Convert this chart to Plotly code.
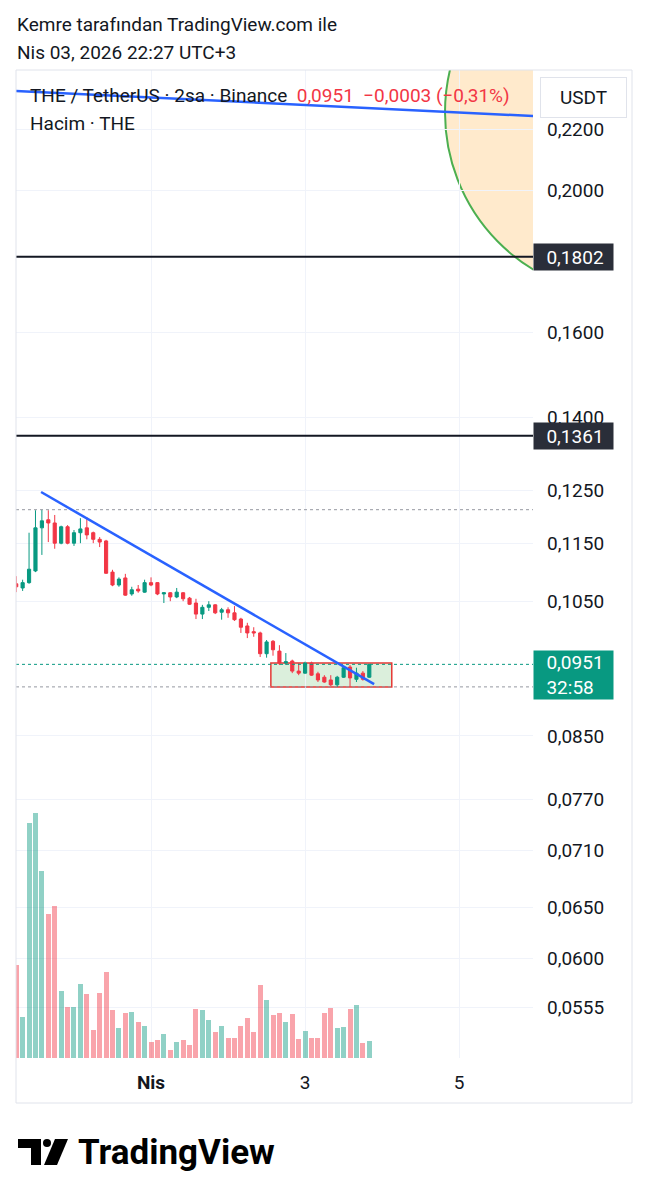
import math
import pandas as pd
import plotly.graph_objects as go

# ---------------- data ----------------
candle_times = pd.date_range("2026-03-30 06:00", periods=56, freq="2h")

opens = [0.1079, 0.1072, 0.1081, 0.1101, 0.1178, 0.1193, 0.1187, 0.1150, 0.1180, 0.1150,
         0.1169, 0.1178, 0.1169, 0.1157, 0.1154, 0.1099, 0.1077, 0.1089, 0.1062, 0.1070,
         0.1065, 0.1081, 0.1081, 0.1062, 0.1064, 0.1057, 0.1064, 0.1055, 0.1047, 0.1029,
         0.1040, 0.1044, 0.1032, 0.1036, 0.1031, 0.1021, 0.1010, 0.1001, 0.0999, 0.0967,
         0.0986, 0.0971, 0.0953, 0.0956, 0.0941, 0.0938, 0.0953, 0.0937, 0.0932, 0.0928,
         0.0921, 0.0932, 0.0947, 0.0929, 0.0938, 0.0932]
highs = [0.1092, 0.1086, 0.1169, 0.1211, 0.1212, 0.1211, 0.1202, 0.1182, 0.1183, 0.1174,
         0.1196, 0.1198, 0.1171, 0.1161, 0.1156, 0.1103, 0.1090, 0.1096, 0.1074, 0.1077,
         0.1086, 0.1090, 0.1082, 0.1065, 0.1065, 0.1072, 0.1065, 0.1057, 0.1054, 0.1044,
         0.1050, 0.1045, 0.1039, 0.1040, 0.1042, 0.1023, 0.1015, 0.1008, 0.1001, 0.0988,
         0.0988, 0.0980, 0.0968, 0.0958, 0.0953, 0.0955, 0.0955, 0.0940, 0.0935, 0.0935,
         0.0934, 0.0949, 0.0950, 0.0946, 0.0941, 0.0951]
lows = [0.1065, 0.1067, 0.1079, 0.1099, 0.1129, 0.1152, 0.1140, 0.1148, 0.1148, 0.1145,
        0.1150, 0.1157, 0.1150, 0.1143, 0.1096, 0.1075, 0.1074, 0.1059, 0.1059, 0.1064,
        0.1064, 0.1075, 0.1060, 0.1047, 0.1050, 0.1055, 0.1050, 0.1044, 0.1021, 0.1021,
        0.1034, 0.1029, 0.1020, 0.1023, 0.1018, 0.0999, 0.0991, 0.0993, 0.0962, 0.0961,
        0.0964, 0.0950, 0.0950, 0.0938, 0.0935, 0.0937, 0.0934, 0.0925, 0.0924, 0.0919,
        0.0918, 0.0931, 0.0918, 0.0925, 0.0927, 0.0931]
closes = [0.1074, 0.1081, 0.1104, 0.1178, 0.1191, 0.1187, 0.1150, 0.1180, 0.1150, 0.1169,
          0.1176, 0.1165, 0.1157, 0.1152, 0.1097, 0.1077, 0.1087, 0.1060, 0.1069, 0.1067,
          0.1081, 0.1077, 0.1062, 0.1064, 0.1057, 0.1065, 0.1054, 0.1045, 0.1029, 0.1040,
          0.1044, 0.1031, 0.1036, 0.1031, 0.1020, 0.1008, 0.0999, 0.0999, 0.0967, 0.0985,
          0.0973, 0.0953, 0.0955, 0.0941, 0.0938, 0.0953, 0.0935, 0.0928, 0.0925, 0.0921,
          0.0932, 0.0946, 0.0931, 0.0938, 0.0929, 0.0951]
# volume in thousands of THE
volumes = [930, 410, 2350, 2450, 1870, 1440, 1520, 670, 510, 510,
           740, 640, 280, 650, 860, 480, 300, 450, 460, 360,
           320, 160, 180, 240, 80, 160, 180, 130, 490, 480,
           380, 260, 320, 200, 200, 320, 400, 260, 730, 580,
           430, 450, 360, 440, 190, 270, 200, 200, 450, 500,
           300, 310, 490, 530, 150, 170]

price_ticks = [0.2200, 0.2000, 0.1600, 0.1400, 0.1250, 0.1150, 0.1050,
               0.0850, 0.0770, 0.0710, 0.0650, 0.0600, 0.0555]
date_ticks = ["2026-04-01", "2026-04-03", "2026-04-05"]
date_tick_labels = ["<b>Nis</b>", "3", "5"]

# drawings
level_lines = [0.1802, 0.1361]
last_price = 0.0951
countdown = "32:58"
trend_short_x = ["2026-03-30 13:45", "2026-04-03 21:30"]
trend_short_y = [0.1246, 0.0922]
trend_long_x = ["2026-03-30 01:00", "2026-04-06 04:00"]
trend_long_y = [0.2340, 0.2244]
circle_x = ["2026-04-04 19:35", "2026-04-09 11:45"]
circle_y = [0.1697, 0.3008]
zone_x = ["2026-04-02 13:20", "2026-04-04 03:00"]
zone_y = [0.0918, 0.0953]

x_range = ["2026-03-30 05:56", "2026-04-05 23:00"]
price_range = [0.0513, 0.2415]
vol_range = [0, 9880]

# ---------------- layout helpers (screen pixel -> paper) ----------------
OFF = 8                      # page body margin of the html page
L, R, T, B = 16, 632, 70, 1103
FIG_W, FIG_H = 648 - OFF, 1200 - OFF
def px(x):
    return (x - L) / (R - L)
def py(y):
    return (B - y) / (B - T)

GREEN = "#089981"
RED = "#f23645"
TXT = "#131722"
FONT = "Roboto"
PAD = "\u00a0\u00a0"

vol_colors = ["rgba(8,153,129,0.45)" if c >= o else "rgba(242,54,69,0.45)"
              for o, c in zip(opens, closes)]

fig = go.Figure()

fig.add_trace(go.Bar(x=candle_times, y=volumes, yaxis="y2",
                     marker=dict(color=vol_colors, line=dict(width=0)),
                     width=2 * 3600 * 1000 * 0.78, hoverinfo="skip"))

fig.add_trace(go.Candlestick(x=candle_times, open=opens, high=highs, low=lows, close=closes,
                             increasing=dict(line=dict(color=GREEN, width=1), fillcolor=GREEN),
                             decreasing=dict(line=dict(color=RED, width=1), fillcolor=RED),
                             whiskerwidth=0, hoverinfo="skip"))

full_x = [x_range[0], x_range[1]]
for lvl in [max(highs), min(lows)]:
    fig.add_trace(go.Scatter(x=full_x, y=[lvl, lvl], mode="lines",
                             line=dict(color="#9598a1", width=1, dash="dot"), hoverinfo="skip"))
fig.add_trace(go.Scatter(x=full_x, y=[last_price, last_price], mode="lines",
                         line=dict(color=GREEN, width=1, dash="dot"), hoverinfo="skip"))
for lvl in level_lines:
    fig.add_trace(go.Scatter(x=full_x, y=[lvl, lvl], mode="lines",
                             line=dict(color=TXT, width=2), hoverinfo="skip"))
fig.add_trace(go.Scatter(x=trend_short_x, y=trend_short_y, mode="lines",
                         line=dict(color="#2962ff", width=2.5), hoverinfo="skip"))
fig.add_trace(go.Scatter(x=trend_long_x, y=trend_long_y, mode="lines",
                         line=dict(color="#2962ff", width=2.5), hoverinfo="skip"))

shapes = [
    dict(type="circle", xref="x", yref="y", x0=circle_x[0], x1=circle_x[1],
         y0=circle_y[0], y1=circle_y[1], line=dict(color="#4caf50", width=2),
         fillcolor="rgba(255,152,0,0.2)", layer="below"),
    dict(type="rect", xref="x", yref="y", x0=zone_x[0], x1=zone_x[1],
         y0=zone_y[0], y1=zone_y[1], line=dict(color="#e53935", width=1.5),
         fillcolor="rgba(76,175,80,0.2)", layer="below"),
    dict(type="rect", xref="paper", yref="paper", x0=0, x1=1, y0=0, y1=1,
         line=dict(color="#e0e3eb", width=1)),
    # TradingView logo glyph
    dict(type="path", xref="paper", yref="paper",
         path=f"M {px(18)},{py(1139)} L {px(41)},{py(1139)} L {px(41)},{py(1165)} "
              f"L {px(31)},{py(1165)} L {px(31)},{py(1148)} L {px(18)},{py(1148)} Z",
         fillcolor="#000000", line=dict(width=0)),
    dict(type="circle", xref="paper", yref="paper", x0=px(43), x1=px(51),
         y0=py(1139), y1=py(1147), fillcolor="#000000", line=dict(width=0)),
    dict(type="path", xref="paper", yref="paper",
         path=f"M {px(55)},{py(1139)} L {px(68)},{py(1139)} L {px(57)},{py(1165)} "
              f"L {px(44)},{py(1165)} Z",
         fillcolor="#000000", line=dict(width=0)),
]

def fmt(v):
    return f"{v:.4f}".replace(".", ",")

ann = []
ann.append(dict(xref="paper", yref="paper", x=px(15), y=py(24), xanchor="left", yanchor="middle",
                text="Kemre tarafından TradingView.com ile", showarrow=False,
                font=dict(family=FONT, size=19, color=TXT)))
ann.append(dict(xref="paper", yref="paper", x=px(15), y=py(52), xanchor="left", yanchor="middle",
                text="Nis 03, 2026 22:27 UTC+3", showarrow=False,
                font=dict(family=FONT, size=19, color=TXT)))
ann.append(dict(xref="paper", yref="paper", x=px(28), y=py(96), xanchor="left", yanchor="middle",
                text="THE / TetherUS · 2sa · Binance\u00a0\u00a0<span style='color:#f23645'>"
                     "0,0951\u00a0\u00a0−0,0003 (−0,31%)</span>",
                showarrow=False, font=dict(family=FONT, size=19, color=TXT)))
ann.append(dict(xref="paper", yref="paper", x=px(28), y=py(123), xanchor="left", yanchor="middle",
                text="Hacim · THE", showarrow=False, font=dict(family=FONT, size=19, color=TXT)))
ann.append(dict(xref="paper", yref="paper", x=px(583), y=py(97), xanchor="center", yanchor="middle",
                text="USDT", showarrow=False, font=dict(family=FONT, size=19, color=TXT),
                bgcolor="#ffffff", bordercolor="#e0e3eb", borderwidth=1, borderpad=4,
                width=77, height=31))
x_end = px(533)
for lvl in level_lines:
    ann.append(dict(xref="paper", yref="y", x=x_end, y=math.log10(lvl), xanchor="left",
                    yanchor="middle", text=PAD + fmt(lvl), showarrow=False, align="left",
                    font=dict(family=FONT, size=19, color="#ffffff"),
                    bgcolor="#2a2e39", borderpad=3, width=73, height=20))
ann.append(dict(xref="paper", yref="y", x=x_end, y=math.log10(last_price), xanchor="left",
                yanchor="top", yshift=14, text=PAD + fmt(last_price) + "<br>" + PAD + countdown,
                align="left", showarrow=False, font=dict(family=FONT, size=19, color="#ffffff"),
                bgcolor=GREEN, borderpad=3, width=73, height=42))
ann.append(dict(xref="paper", yref="paper", x=px(76), y=py(1152), xanchor="left", yanchor="middle",
                text="<b>TradingView</b>", showarrow=False,
                font=dict(family=FONT, size=35, color="#000000")))

fig.update_layout(
    width=FIG_W, height=FIG_H,
    margin=dict(l=L - OFF, r=FIG_W - (R - OFF), t=T - OFF, b=FIG_H - (B - OFF)),
    paper_bgcolor="#ffffff", plot_bgcolor="#ffffff",
    showlegend=False, shapes=shapes, annotations=ann,
    font=dict(family=FONT, size=19, color=TXT),
    bargap=0,
    xaxis=dict(domain=[0, x_end], type="date", range=x_range,
               tickvals=date_ticks, ticktext=date_tick_labels,
               showgrid=True, gridcolor="#f0f3fa", zeroline=False, showline=False,
               ticks="", ticklabelstandoff=11, rangeslider=dict(visible=False),
               tickfont=dict(family=FONT, size=19, color=TXT)),
    yaxis=dict(domain=[py(1058), 1], type="log",
               range=[math.log10(price_range[0]), math.log10(price_range[1])],
               side="right", tickvals=price_ticks, ticktext=[fmt(v) for v in price_ticks],
               showgrid=True, gridcolor="#f0f3fa", zeroline=False, showline=False,
               ticks="", ticklabelstandoff=13,
               tickfont=dict(family=FONT, size=19, color=TXT)),
    yaxis2=dict(domain=[py(1058), 1], overlaying="y", range=vol_range, visible=False),
)

fig.write_html("out.html")
